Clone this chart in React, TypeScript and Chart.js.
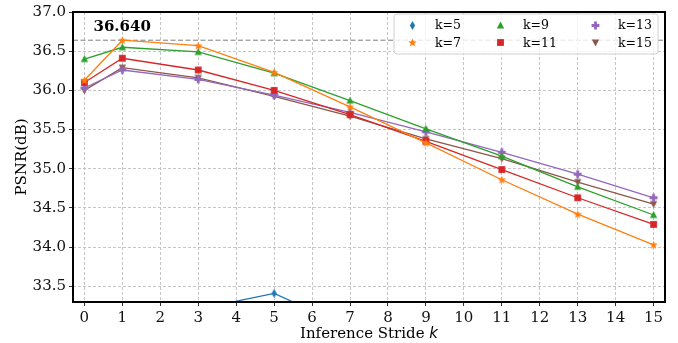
import React, { useEffect, useRef } from "react";
import { Chart, registerables } from "chart.js";

Chart.register(...registerables);

const strides = [0, 1, 3, 5, 7, 9, 11, 13, 15];
const k5 = [33.05, 33.12, 33.21, 33.41, 32.97, 32.6, 32.3, 32.0, 31.7];
const k7 = [36.13, 36.64, 36.57, 36.23, 35.79, 35.33, 34.86, 34.42, 34.03];
const k9 = [36.4, 36.55, 36.49, 36.22, 35.87, 35.51, 35.16, 34.77, 34.41];
const k11 = [36.1, 36.41, 36.26, 36.0, 35.69, 35.35, 34.99, 34.63, 34.29];
const k13 = [36.03, 36.26, 36.14, 35.94, 35.72, 35.47, 35.21, 34.93, 34.63];
const k15 = [36.0, 36.29, 36.16, 35.925, 35.67, 35.38, 35.13, 34.83, 34.55];
const seriesLabels = ["k=5", "k=7", "k=9", "k=11", "k=13", "k=15"];
const seriesColors = ["#1f77b4", "#ff7f0e", "#2ca02c", "#d62728", "#9467bd", "#8c564b"];
const seriesMarkers = ["thindiamond", "star", "triangle", "square", "plus", "triangledown"];
const bestValue = 36.64;
const bestLabel = "36.640";
const xTicks = [0, 1, 2, 3, 4, 5, 6, 7, 8, 9, 10, 11, 12, 13, 14, 15];

const SERIF = "'DejaVu Serif', serif";

function makeMarker(kind: string, color: string): HTMLCanvasElement {
  const s = 11;
  const c = document.createElement("canvas");
  c.width = s;
  c.height = s;
  const ctx = c.getContext("2d")!;
  ctx.fillStyle = color;
  ctx.strokeStyle = color;
  ctx.lineWidth = 1;
  const cx = s / 2;
  const cy = s / 2;
  ctx.beginPath();
  if (kind === "thindiamond") {
    ctx.moveTo(cx, cy - 4.5);
    ctx.lineTo(cx + 2.6, cy);
    ctx.lineTo(cx, cy + 4.5);
    ctx.lineTo(cx - 2.6, cy);
  } else if (kind === "star") {
    const R = 4.4;
    const r = 1.9;
    for (let i = 0; i < 10; i++) {
      const a = -Math.PI / 2 + (i * Math.PI) / 5;
      const rr = i % 2 === 0 ? R : r;
      const px = cx + rr * Math.cos(a);
      const py = cy + 0.4 + rr * Math.sin(a);
      if (i === 0) ctx.moveTo(px, py);
      else ctx.lineTo(px, py);
    }
  } else if (kind === "triangle") {
    ctx.moveTo(cx, cy - 3.9);
    ctx.lineTo(cx + 3.7, cy + 2.9);
    ctx.lineTo(cx - 3.7, cy + 2.9);
  } else if (kind === "triangledown") {
    ctx.moveTo(cx, cy + 3.9);
    ctx.lineTo(cx + 3.7, cy - 2.9);
    ctx.lineTo(cx - 3.7, cy - 2.9);
  } else if (kind === "square") {
    ctx.rect(cx - 3.4, cy - 3.4, 6.8, 6.8);
  } else if (kind === "plus") {
    const a = 1.4;
    const b = 3.9;
    ctx.moveTo(cx - a, cy - b);
    ctx.lineTo(cx + a, cy - b);
    ctx.lineTo(cx + a, cy - a);
    ctx.lineTo(cx + b, cy - a);
    ctx.lineTo(cx + b, cy + a);
    ctx.lineTo(cx + a, cy + a);
    ctx.lineTo(cx + a, cy + b);
    ctx.lineTo(cx - a, cy + b);
    ctx.lineTo(cx - a, cy + a);
    ctx.lineTo(cx - b, cy + a);
    ctx.lineTo(cx - b, cy - a);
    ctx.lineTo(cx - a, cy - a);
  }
  ctx.closePath();
  ctx.fill();
  return c;
}

export default function App() {
  const ref = useRef<HTMLCanvasElement | null>(null);

  useEffect(() => {
    document.body.style.margin = "0";
    const canvas = ref.current!;
    const allValues = [k5, k7, k9, k11, k13, k15];
    const markers = seriesMarkers.map((m, i) => makeMarker(m, seriesColors[i]));

    const datasets = allValues.map((vals, i) => ({
      label: seriesLabels[i],
      data: strides.map((x, j) => ({ x, y: vals[j] })),
      borderColor: seriesColors[i],
      backgroundColor: seriesColors[i],
      borderWidth: 1.3,
      pointStyle: markers[i] as any,
      pointRadius: 4,
      tension: 0,
    }));

    const overlay = {
      id: "overlay",
      beforeDatasetsDraw(chart: any) {
        const { ctx, chartArea, scales } = chart;
        const y = scales.y.getPixelForValue(bestValue);
        ctx.save();
        ctx.strokeStyle = "#7f7f7f";
        ctx.lineWidth = 1;
        ctx.setLineDash([5, 2.5]);
        ctx.beginPath();
        ctx.moveTo(chartArea.left, y);
        ctx.lineTo(chartArea.right, y);
        ctx.stroke();
        ctx.restore();
      },
      afterDraw(chart: any) {
        const { ctx, chartArea, scales } = chart;
        ctx.save();
        ctx.strokeStyle = "#000";
        ctx.lineWidth = 2;
        ctx.setLineDash([]);
        ctx.strokeRect(chartArea.left, chartArea.top, chartArea.right - chartArea.left, chartArea.bottom - chartArea.top);

        ctx.fillStyle = "#000";
        ctx.font = `bold 15px ${SERIF}`;
        ctx.textAlign = "left";
        ctx.textBaseline = "alphabetic";
        ctx.fillText(bestLabel, scales.x.getPixelForValue(0.24), scales.y.getPixelForValue(36.755));

        ctx.font = `15px ${SERIF}`;
        const t1 = "Inference Stride ";
        const w1 = ctx.measureText(t1).width;
        ctx.font = `italic 15px 'DejaVu Sans', sans-serif`;
        const w2 = ctx.measureText("k").width;
        const cx = (chartArea.left + chartArea.right) / 2;
        const startX = cx - (w1 + w2) / 2;
        ctx.font = `15px ${SERIF}`;
        ctx.fillText(t1, startX, 338);
        ctx.font = `italic 15px 'DejaVu Sans', sans-serif`;
        ctx.fillText("k", startX + w1, 338);

        ctx.save();
        ctx.translate(26, (chartArea.top + chartArea.bottom) / 2);
        ctx.rotate(-Math.PI / 2);
        ctx.font = `15px ${SERIF}`;
        ctx.textAlign = "center";
        ctx.fillText("PSNR(dB)", 0, 0);
        ctx.restore();

        const bx = 394, by = 14, bw = 264, bh = 40, r = 3;
        ctx.beginPath();
        ctx.moveTo(bx + r, by);
        ctx.arcTo(bx + bw, by, bx + bw, by + bh, r);
        ctx.arcTo(bx + bw, by + bh, bx, by + bh, r);
        ctx.arcTo(bx, by + bh, bx, by, r);
        ctx.arcTo(bx, by, bx + bw, by, r);
        ctx.closePath();
        ctx.fillStyle = "rgba(255,255,255,0.8)";
        ctx.fill();
        ctx.strokeStyle = "#d0d0d0";
        ctx.lineWidth = 1;
        ctx.stroke();
        const colMarkerX = [412, 500.5, 595.5];
        const colTextX = [435, 523, 618];
        const rowY = [25, 42.5];
        ctx.font = `12.5px ${SERIF}`;
        ctx.textBaseline = "middle";
        ctx.textAlign = "left";
        for (let i = 0; i < seriesLabels.length; i++) {
          const col = Math.floor(i / 2);
          const row = i % 2;
          const m = markers[i];
          ctx.drawImage(m, Math.round(colMarkerX[col] - m.width / 2), Math.round(rowY[row] - m.height / 2));
          ctx.fillStyle = "#000";
          ctx.fillText(seriesLabels[i], colTextX[col], rowY[row] + 1);
        }
        ctx.restore();
      },
    };

    const gridOpts: any = {
      color: "#b8b8b8",
      lineWidth: 0.8,
      tickColor: "#000",
      tickLength: 4,
      tickBorderDash: [],
    };

    const chart = new Chart(canvas, {
      type: "line",
      data: { datasets: datasets as any },
      options: {
        animation: false,
        responsive: false,
        maintainAspectRatio: false,
        layout: { padding: { top: 8, right: 13, left: 0, bottom: 0 } },
        plugins: { legend: { display: false }, tooltip: { enabled: false } },
        scales: {
          x: {
            type: "linear",
            min: -0.3,
            max: 15.3,
            afterFit: (s: any) => { s.height = 41; },
            afterBuildTicks: (s: any) => { s.ticks = xTicks.map((v) => ({ value: v })); },
            ticks: {
              stepSize: 1,
              includeBounds: false,
              color: "#111",
              font: { family: SERIF, size: 15 },
              padding: 3,
              maxRotation: 0,
              autoSkip: false,
            },
            grid: gridOpts,
            border: { display: false, dash: [3, 2] } as any,
          },
          y: {
            type: "linear",
            min: 33.3,
            max: 37.0,
            afterFit: (s: any) => { s.width = 73; },
            ticks: {
              stepSize: 0.5,
              includeBounds: false,
              color: "#111",
              font: { family: SERIF, size: 15 },
              padding: 3,
              callback: (v: any) => Number(v).toFixed(1),
            },
            grid: gridOpts,
            border: { display: false, dash: [3, 2] } as any,
          },
        },
      },
      plugins: [overlay],
    });
    return () => chart.destroy();
  }, []);

  return (
    <div style={{ position: "absolute", left: 0, top: 0, width: 678, height: 343 }}>
      <canvas ref={ref} width={678} height={343} style={{ display: "block" }} />
    </div>
  );
}
